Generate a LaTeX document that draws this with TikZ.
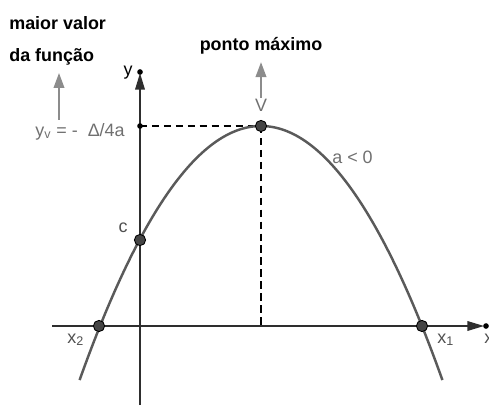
\documentclass[tikz,border=0pt]{standalone}
\usepackage{fontspec}
\setmainfont{Liberation Sans}
\usetikzlibrary{arrows.meta}
\definecolor{c1}{HTML}{000000}
\definecolor{curvecolor}{HTML}{5A5A5A}
\definecolor{axiscolor}{HTML}{2E2E2E}
\definecolor{labelcolor}{HTML}{707070}
\definecolor{darklabel}{HTML}{505050}
\definecolor{arrowcolor}{HTML}{8C8C8C}
\definecolor{pointcolor}{HTML}{454545}

\begin{document}
\begin{tikzpicture}[
    x=0.02cm, y=-0.02cm,
    every node/.style={font=\fontsize{10.2}{18.5}\selectfont, inner sep=0pt},
    lab/.style={text=labelcolor},
    dlab/.style={text=darklabel},
    title/.style={font=\fontsize{10.2}{18.5}\selectfont\bfseries, text=c1, align=left},
    guide/.style={c1, line width=0.8pt, dash pattern=on 4.2pt off 2.6pt},
    axis/.style={axiscolor, line width=0.85pt, -{Triangle[length=9.5pt, width=5.5pt]}},
    garrow/.style={arrowcolor, line width=1.1pt, -{Triangle[length=8.5pt, width=6pt]}},
    pt/.style={circle, draw=c1, fill=pointcolor, line width=0.5pt, minimum size=6.4pt},
]
\useasboundingbox (0,0) rectangle (489,405);
\def\P#1{126 + 0.772*((#1-261)/10)^2}

% ---------------------------------------------------------------- axes
\coordinate (xs) at (52, 326);
\coordinate (xe) at (484, 326);
\coordinate (ys) at (140, 405);
\coordinate (ye) at (140, 73);
\draw[axis] (xs) -- (xe);
\draw[axis] (ys) -- (ye);
\fill[c1] (486, 326) circle (1.6pt);
\fill[c1] (140, 72) circle (1.6pt);
\node[anchor=base, text=c1] (ylab) at (128, 76) {y};
\node[anchor=base west, dlab] (xlab) at (484, 343) {x};

% ---------------------------------------------------------------- guides
\coordinate (yvpt) at (140, 126);
\coordinate (vfoot) at (261, 326);
\draw[guide] (yvpt) -- (261, 126);
\draw[guide] (261, 126) -- (vfoot);
\fill[c1] (yvpt) circle (1.6pt);

% ---------------------------------------------------------------- the parabola
\draw[curvecolor, line width=1.4pt]
    plot[domain=79.6:442.4, samples=120, smooth] (\x, {\P{\x}});
\node[anchor=base west, lab] (alab) at (332, 163) {a < 0};

% ---------------------------------------------------------------- points
\node[pt] (V) at (261, 126) {};
\node[pt] (C) at (140, 240) {};
\node[pt] (X2) at (99, 326) {};
\node[pt] (X1) at (422, 326) {};
\node[anchor=base, lab] (vlab) at (261, 112) {V};
\node[anchor=base, dlab] (clab) at (123, 232) {c};
\node[anchor=base west, dlab] (x2lab) at (67, 343) {x\textsubscript{2}};
\node[anchor=base west, dlab] (x1lab) at (437, 343) {x\textsubscript{1}};

% ---------------------------------------------------------------- notes
\node[anchor=base east, lab] (yv) at (125, 136) {y\textsubscript{v} = -\ \ Δ/4a};
\node[title, anchor=base west] (maior) at (9, 62) {maior valor\\da função};
\node[title, anchor=base] (ponto) at (261, 51) {ponto máximo};
\coordinate (yvtop) at (59, 120);
\coordinate (maiorbot) at (59, 73);
\draw[garrow] (yvtop) -- (maiorbot);
\draw[garrow, shorten >=4pt, shorten <=1pt] (vlab.north) -- (ponto.south);
\end{tikzpicture}
\end{document}
